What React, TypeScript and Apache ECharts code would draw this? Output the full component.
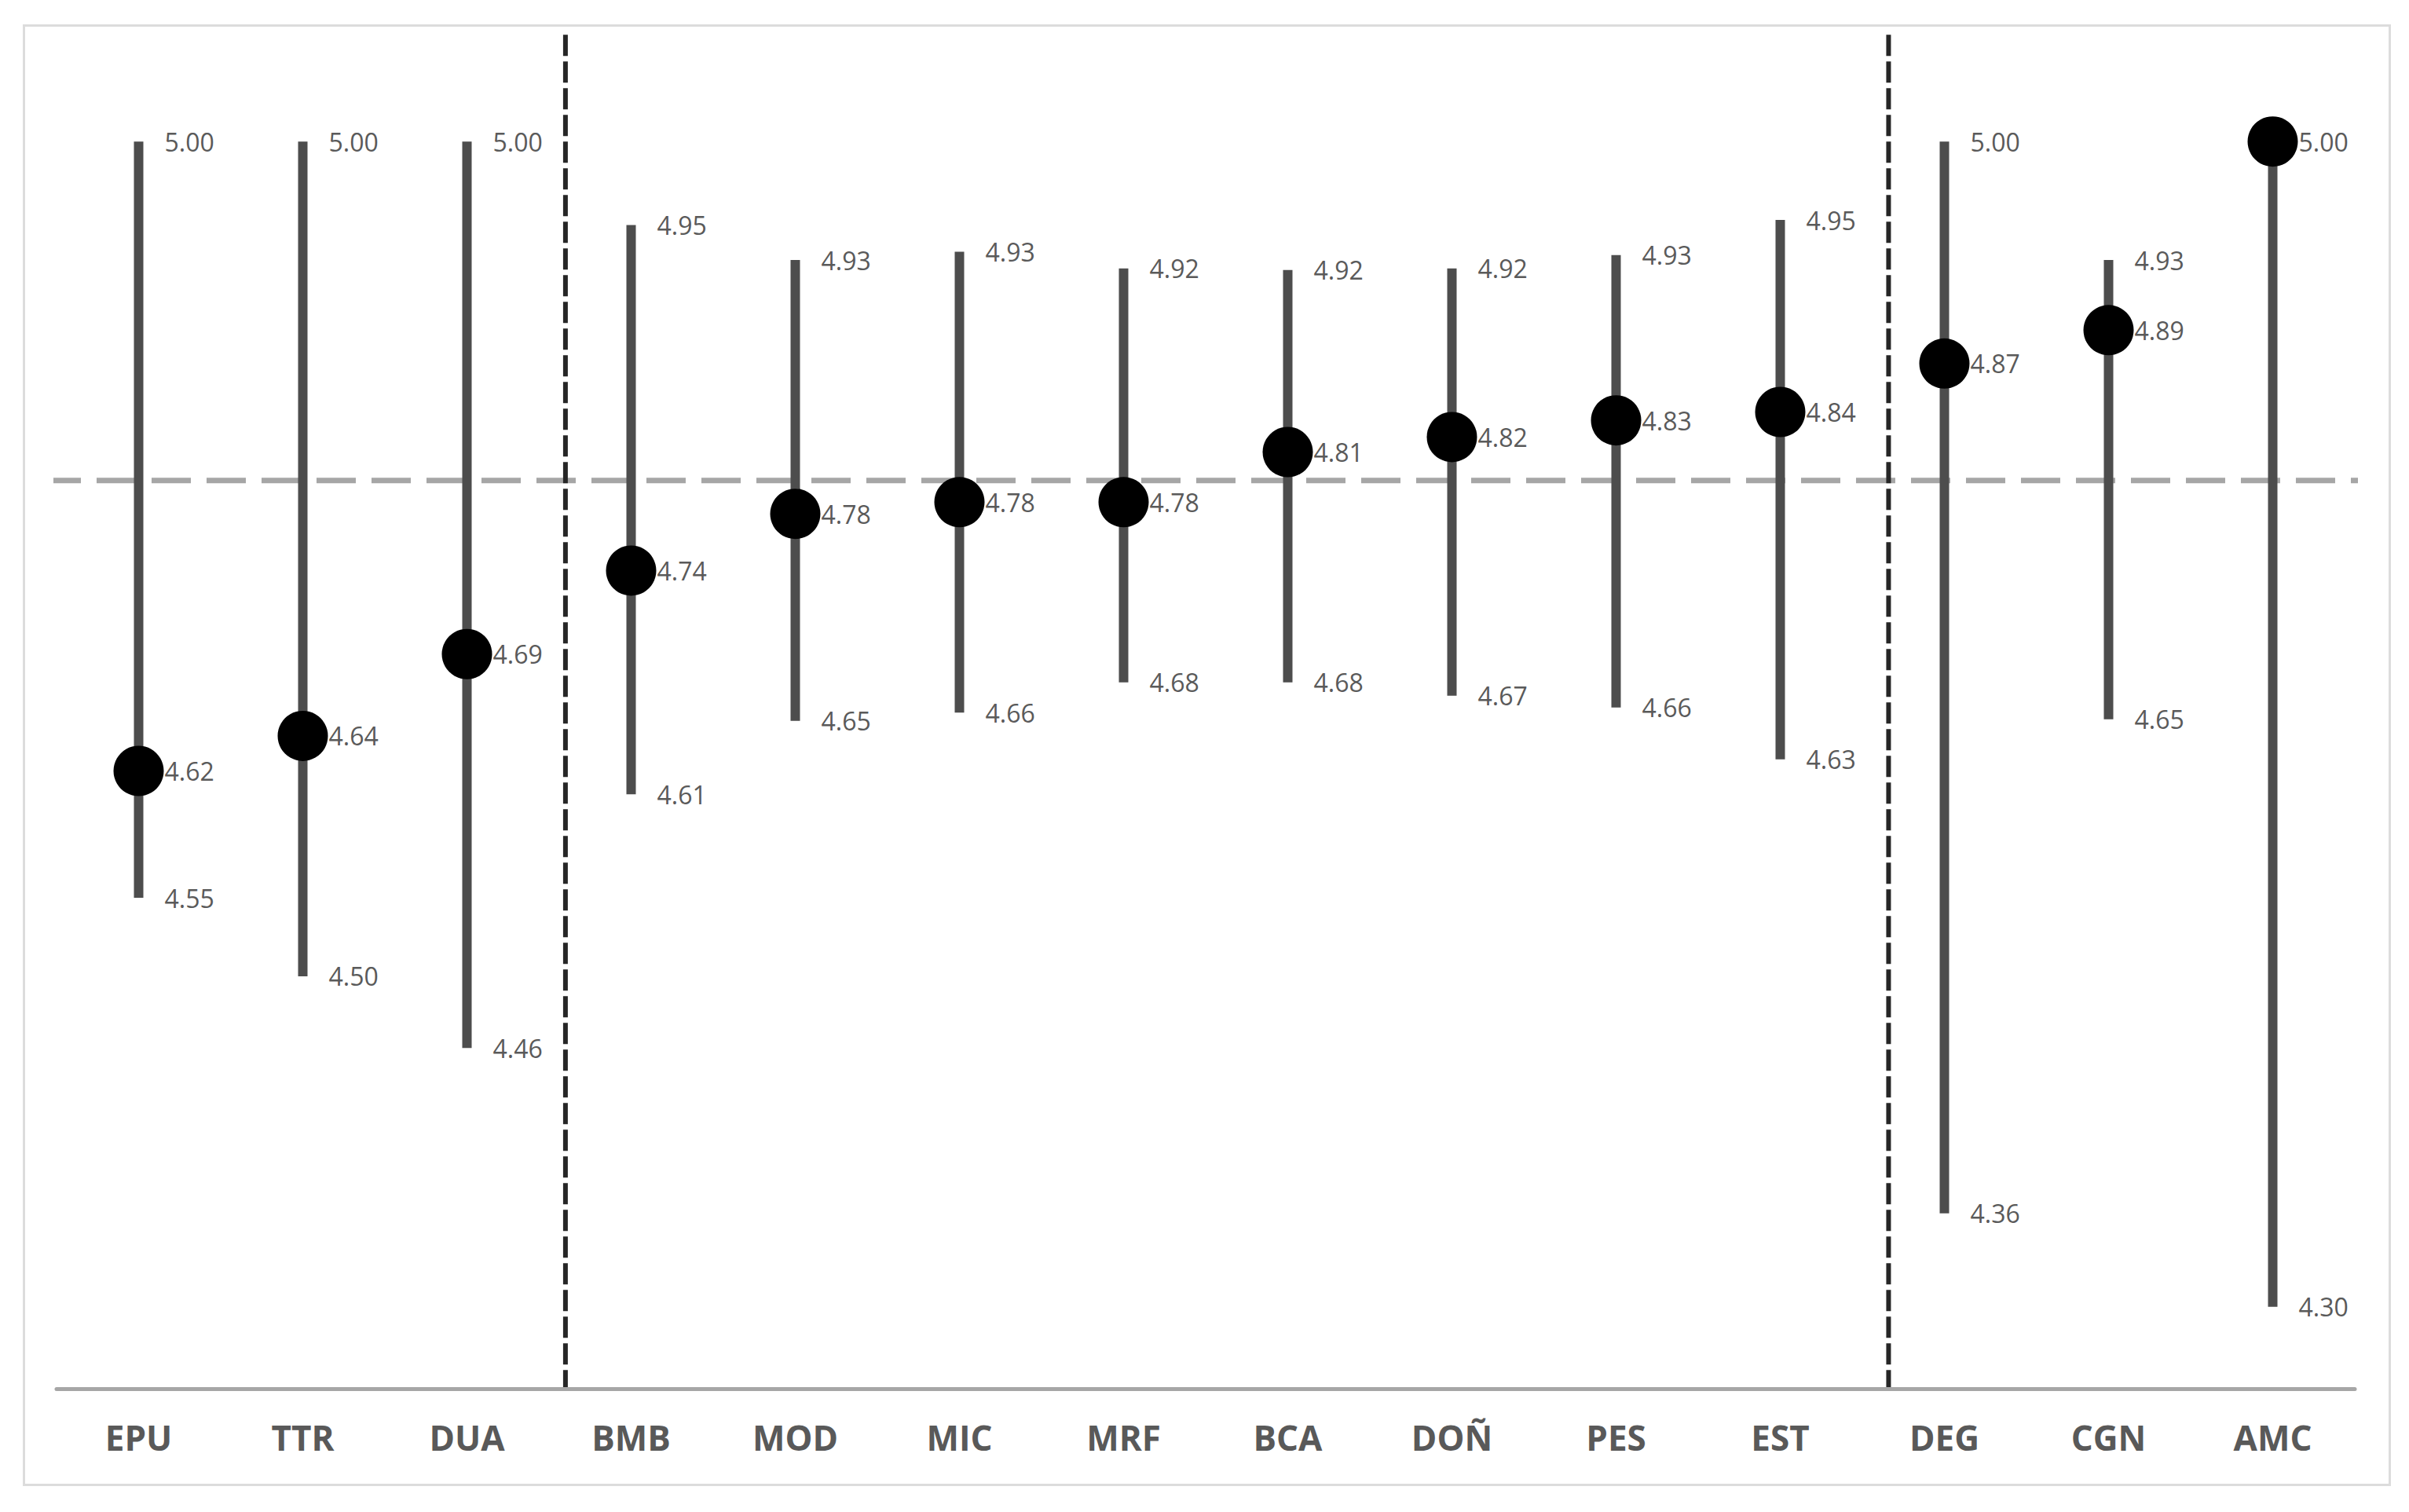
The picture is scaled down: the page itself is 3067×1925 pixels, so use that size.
import React, { useEffect, useRef } from "react";
import * as echarts from "echarts";

const categories = ["EPU", "TTR", "DUA", "BMB", "MOD", "MIC", "MRF", "BCA", "DOÑ", "PES", "EST", "DEG", "CGN", "AMC"];
const maxValues = [5.0, 5.0, 5.0, 4.95, 4.929, 4.934, 4.924, 4.923, 4.924, 4.932, 4.953, 5.0, 4.929, 5.0];
const meanValues = [4.623, 4.644, 4.693, 4.743, 4.777, 4.784, 4.784, 4.814, 4.823, 4.833, 4.838, 4.867, 4.887, 5.0];
const minValues = [4.547, 4.5, 4.457, 4.609, 4.653, 4.658, 4.676, 4.676, 4.668, 4.661, 4.63, 4.358, 4.654, 4.302];
const overallMean = 4.797;
const groupSeparators = [2.6, 10.66];

const Y_MIN = 4.253;
const Y_MAX = 5.065;
const LABEL_FONT = '32px "Open Sans", "Noto Sans", sans-serif';
const LABEL_COLOR = "#5a5a5a";

export default function App() {
  const ref = useRef<HTMLDivElement>(null);

  useEffect(() => {
    if (!ref.current) return;
    const chart = echarts.init(ref.current, undefined, { renderer: "svg" });

    const rangeData = categories.map((_, i) => [i, maxValues[i], minValues[i], meanValues[i]]);

    const separatorSeries = groupSeparators.map((x) => ({
      type: "line",
      xAxisIndex: 1,
      yAxisIndex: 0,
      data: [
        [x, Y_MAX - 0.001],
        [x, Y_MIN],
      ],
      symbol: "none",
      silent: true,
      z: 1,
      lineStyle: { color: "#262626", width: 6, type: [27, 7] },
    }));

    const option: any = {
      animation: false,
      backgroundColor: "#ffffff",
      graphic: [
        {
          type: "rect",
          left: 28,
          top: 30,
          shape: { width: 3012, height: 1858 },
          style: { fill: "none", stroke: "#dcdcdc", lineWidth: 3 },
          silent: true,
          z: 0,
        },
      ],
      grid: { left: 72, right: 69, top: 42, height: 1726 },
      xAxis: [
        {
          type: "category",
          data: categories,
          boundaryGap: true,
          axisLine: { show: true, lineStyle: { color: "#a6a6a6", width: 5 } },
          axisTick: { show: false },
          axisLabel: {
            margin: 40,
            color: "#595959",
            fontSize: 44,
            fontWeight: "bold",
            fontFamily: '"Open Sans", "Noto Sans", sans-serif',
          },
          splitLine: { show: false },
          z: 2,
        },
        {
          type: "value",
          min: -0.5,
          max: 13.5,
          show: false,
        },
      ],
      yAxis: {
        type: "value",
        min: Y_MIN,
        max: Y_MAX,
        show: false,
        splitLine: { show: false },
      },
      series: [
        {
          type: "line",
          xAxisIndex: 1,
          yAxisIndex: 0,
          data: [
            [-0.591, overallMean],
            [13.533, overallMean],
          ],
          symbol: "none",
          clip: false,
          silent: true,
          z: 1,
          lineStyle: { color: "#a6a6a6", width: 7, type: [50, 20] },
        },
        ...separatorSeries,
        {
          type: "custom",
          xAxisIndex: 0,
          yAxisIndex: 0,
          data: rangeData,
          z: 3,
          renderItem: (params: any, api: any) => {
            const i = api.value(0);
            const hi = api.value(1);
            const lo = api.value(2);
            const mean = api.value(3);
            const top = api.coord([i, hi]);
            const bot = api.coord([i, lo]);
            const children: any[] = [
              {
                type: "line",
                shape: { x1: top[0], y1: top[1], x2: bot[0], y2: bot[1] },
                style: { stroke: "#4d4d4d", lineWidth: 12 },
              },
              {
                type: "text",
                x: bot[0] + 33,
                y: bot[1],
                style: {
                  text: lo.toFixed(2),
                  fill: LABEL_COLOR,
                  font: LABEL_FONT,
                  align: "left",
                  verticalAlign: "middle",
                },
              },
            ];
            if (Math.abs(hi - mean) > 0.02) {
              children.push({
                type: "text",
                x: top[0] + 33,
                y: top[1],
                style: {
                  text: hi.toFixed(2),
                  fill: LABEL_COLOR,
                  font: LABEL_FONT,
                  align: "left",
                  verticalAlign: "middle",
                },
              });
            }
            return { type: "group", children };
          },
        },
        {
          type: "scatter",
          xAxisIndex: 0,
          yAxisIndex: 0,
          data: meanValues,
          symbol: "circle",
          symbolSize: 64,
          z: 4,
          itemStyle: { color: "#000000", opacity: 1 },
          label: {
            show: true,
            position: "right",
            distance: 1,
            formatter: (p: any) => Number(p.value).toFixed(2),
            color: LABEL_COLOR,
            opacity: 1,
            fontSize: 32,
            fontFamily: '"Open Sans", "Noto Sans", sans-serif',
          },
        },
      ],
    };

    chart.setOption(option);
    return () => chart.dispose();
  }, []);

  return (
    <div
      ref={ref}
      style={{ position: "absolute", left: 0, top: 0, width: 3067, height: 1925, background: "#ffffff" }}
    />
  );
}
